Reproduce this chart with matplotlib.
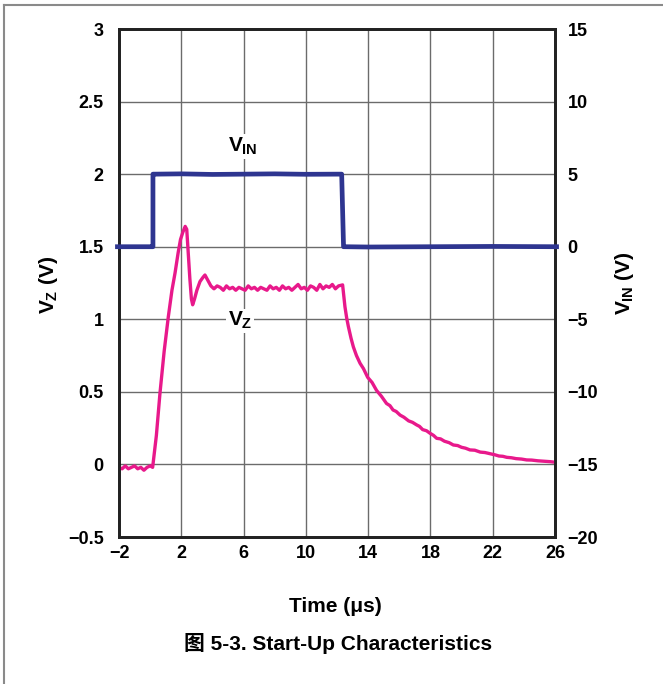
import matplotlib

matplotlib.use("Agg")
import matplotlib.pyplot as plt
from matplotlib.lines import Line2D

plt.rcParams.update({
    "font.family": ["Liberation Sans", "Noto Sans CJK SC", "DejaVu Sans"],
    "font.weight": "bold",
    "mathtext.fontset": "custom",
    "mathtext.rm": "Liberation Sans:bold",
    "mathtext.it": "Liberation Sans:bold",
    "mathtext.bf": "Liberation Sans:bold",
})

BLUE = "#2E3590"
PINK = "#E8198B"

# input step, plotted on the right-hand axis (V)
t_in = [-2.1, -1.0, 0.0, 0.18, 0.18, 0.3, 2.0, 4.0, 6.0, 8.0, 10.0, 12.0, 12.3,
        12.42, 12.5, 14.0, 18.0, 22.0, 26.1]
v_in = [0.0, 0.0, 0.0, 0.0, 5.0, 5.0, 5.02, 4.98, 5.0, 5.02, 4.99, 5.0, 5.0,
        0.0, 0.0, -0.02, 0.0, 0.02, 0.0]

# zener voltage, left axis (V)
t_z = [-2.0, -1.8, -1.6, -1.4, -1.2, -1.0, -0.8, -0.6, -0.4, -0.2, 0.0, 0.16,
       0.4, 0.63, 0.9, 1.17, 1.4, 1.6, 1.8, 1.95, 2.1, 2.25, 2.35, 2.45, 2.55,
       2.65, 2.73, 2.85, 3.0, 3.2, 3.4, 3.52, 3.7, 3.9, 4.1, 4.3, 4.5, 4.7, 4.9,
       5.1, 5.3, 5.5, 5.7, 5.9, 6.1, 6.3, 6.5, 6.7, 6.9, 7.1, 7.3, 7.5, 7.7,
       7.9, 8.1, 8.3, 8.5, 8.7, 8.9, 9.1, 9.3, 9.5, 9.7, 9.9, 10.1, 10.3, 10.5,
       10.7, 10.9, 11.1, 11.3, 11.5, 11.7, 11.9, 12.1, 12.36, 12.45, 12.51,
       12.62, 12.73, 12.9, 13.05, 13.25, 13.48, 13.7, 13.97, 14.25, 14.54,
       14.85, 15.18, 15.4, 15.6, 15.8, 16.05, 16.3, 16.6, 16.85, 17.12, 17.3,
       17.5, 17.75, 17.97, 18.2, 18.4, 18.65, 18.9, 19.2, 19.47, 19.75, 20.0,
       20.25, 20.54, 20.85, 21.2, 21.5, 21.9, 22.15, 22.4, 22.65, 22.9, 23.2,
       23.5, 23.85, 24.18, 24.5, 24.9, 25.3, 25.7, 26.0]
v_z = [-0.02, -0.03, -0.01, -0.03, -0.02, -0.01, -0.03, -0.02, -0.04, -0.02,
       -0.01, -0.02, 0.2, 0.49, 0.78, 1.02, 1.2, 1.32, 1.46, 1.55, 1.6, 1.64,
       1.62, 1.45, 1.28, 1.14, 1.1, 1.14, 1.2, 1.26, 1.29, 1.305, 1.27, 1.23,
       1.21, 1.23, 1.22, 1.2, 1.23, 1.21, 1.22, 1.2, 1.22, 1.21, 1.2, 1.23,
       1.21, 1.22, 1.2, 1.22, 1.21, 1.2, 1.23, 1.21, 1.22, 1.2, 1.23, 1.21,
       1.22, 1.2, 1.22, 1.24, 1.21, 1.22, 1.2, 1.23, 1.22, 1.2, 1.24, 1.21,
       1.23, 1.22, 1.24, 1.21, 1.23, 1.237, 1.15, 1.087, 1.01, 0.95, 0.87,
       0.81, 0.75, 0.697, 0.66, 0.6, 0.565, 0.51, 0.47, 0.42, 0.405, 0.375,
       0.365, 0.34, 0.325, 0.3, 0.29, 0.272, 0.262, 0.24, 0.232, 0.215, 0.2,
       0.18, 0.176, 0.16, 0.15, 0.134, 0.13, 0.118, 0.112, 0.1, 0.098, 0.085,
       0.082, 0.072, 0.066, 0.058, 0.056, 0.049, 0.046, 0.04, 0.037, 0.031,
       0.03, 0.025, 0.022, 0.019, 0.015]

x_ticks = [-2, 2, 6, 10, 14, 18, 22, 26]
y_ticks = [-0.5, 0, 0.5, 1, 1.5, 2, 2.5, 3]
y2_ticks = [-20, -15, -10, -5, 0, 5, 10, 15]

fig = plt.figure(figsize=(6.63, 6.84), dpi=100)
ax = fig.add_axes([0.1795, 0.2149, 0.6576, 0.7427])
ax2 = ax.twinx()

ax.set_xlim(-2, 26)
ax.set_ylim(-0.5, 3)
ax2.set_ylim(-20, 15)
ax.set_xticks(x_ticks)
ax.set_yticks(y_ticks)
ax2.set_yticks(y2_ticks)
ax.set_xticklabels([f"{v:g}".replace("-", "\u2212") for v in x_ticks])
ax.set_yticklabels([f"{v:g}".replace("-", "\u2212") for v in y_ticks])
ax2.set_yticklabels([f"{v:g}".replace("-", "\u2212") for v in y2_ticks])

ax.grid(True, color="#6b6b6b", lw=1.0)
ax.set_axisbelow(True)
for a in (ax, ax2):
    for s in a.spines.values():
        s.set_linewidth(2.0)
        s.set_color("#222222")
ax.tick_params(axis="x", length=0, pad=6, labelsize=13)
ax.tick_params(axis="y", length=0, pad=11, labelsize=13)
ax2.tick_params(axis="y", length=0, pad=9, labelsize=13)

ax.plot(t_z, v_z, color=PINK, lw=2.4, zorder=3)
ax2.plot(t_in, v_in, color=BLUE, lw=3.4, clip_on=False, zorder=4)

ax.text(5.96, 2.19, "$V_{IN}$", fontsize=15, ha="center", va="center",
        bbox=dict(facecolor="white", edgecolor="none", pad=1.0), zorder=5)
ax.text(5.77, 0.99, "$V_{Z}$", fontsize=15, ha="center", va="center",
        bbox=dict(facecolor="white", edgecolor="none", pad=1.0), zorder=5)

fig.text(48 / 663, 1 - 285 / 684, "$V_{Z}$ (V)", fontsize=15, rotation=90,
         ha="center", va="center")
fig.text(625 / 663, 1 - 283 / 684, "$V_{IN}$ (V)", fontsize=15, rotation=90,
         ha="center", va="center")
fig.text(335 / 663, 1 - 606 / 684, "Time (μs)", fontsize=15,
         ha="center", va="center")
fig.text(338 / 663, 1 - 644 / 684, "图 5-3. Start-Up Characteristics",
         fontsize=15, ha="center", va="center")

# page frame
fig.add_artist(Line2D([4 / 663, 4 / 663], [0, 1 - 5 / 684], color="#8a8a8a", lw=1.5))
fig.add_artist(Line2D([4 / 663, 1], [1 - 5 / 684, 1 - 5 / 684], color="#8a8a8a", lw=1.5))

fig.savefig("out.png", dpi=100)
